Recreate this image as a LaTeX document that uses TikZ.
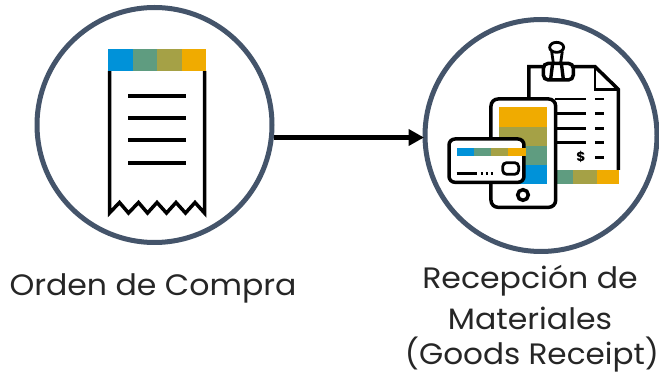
\documentclass[tikz,border=0pt]{standalone}
\usepackage{fontspec}
\setmainfont{Poppins}[FakeStretch=1.07]
\usetikzlibrary{arrows.meta}
\definecolor{ring}{HTML}{44546A}
\definecolor{cblue}{HTML}{0092D9}
\definecolor{cteal}{HTML}{5F9C80}
\definecolor{colive}{HTML}{A5A146}
\definecolor{cgold}{HTML}{F0AB00}
\tikzset{
  ringc/.style={circle,draw=ring,line width=5pt,fill=white,inner sep=0pt},
  lbl/.style={font=\fontsize{29.5}{38}\selectfont,text=black!85,inner sep=0pt,anchor=center},
  ink/.style={draw=black,line width=3.5pt},
  inkt/.style={draw=black,line width=2.8pt},
}
\begin{document}
\begin{tikzpicture}[x=1pt,y=-1pt]
\useasboundingbox (0,0) rectangle (659,374);
\node[ringc,minimum size=235pt] (orden) at (154.5,125) {};
\node[ringc,minimum size=232pt] (recep) at (541,135.5) {};
\draw[line width=5.2pt,shorten <=-0.5pt,shorten >=-1.5pt,-{Triangle[length=15.5pt,width=16pt]}] (orden.east |- 0,137.5) -- (recep.west |- 0,137.5);
% receipt
\draw[ink,miter limit=10] (109.5,71) -- (109.5,213) -- (119.5,202.5) -- (128.5,213) -- (138.5,202.5) -- (147.5,213) -- (157,202.5) -- (166.5,213) -- (176,202.5) -- (185.5,213) -- (195,202.5) -- (204.5,213) -- (204.5,71);
\foreach \y in {96,118,140,163} \draw[line width=3.4pt] (128,\y) -- (186,\y);
\fill[cblue] (108,49) rectangle (132.5,71);
\fill[cteal] (132.5,49) rectangle (157,71);
\fill[colive] (157,49) rectangle (181.5,71);
\fill[cgold] (181.5,49) rectangle (206,71);
% document
\begin{scope}[shift={(440,30)},x=0.3333pt,y=-0.3333pt]
\fill[cteal] (345,420) rectangle (400,461);
\fill[colive] (400,420) rectangle (470,461);
\fill[cgold] (470,420) rectangle (538,461);
\draw[ink,line join=miter] (267,207) -- (267,110) -- (465,110) -- (535,178) -- (535,420);
\draw[inkt] (465,110) -- (465,178) -- (535,178);
\foreach \y in {207,250,295,338} {
  \draw[inkt] (345,\y) -- (437,\y);
  \draw[inkt] (465,\y) -- (493,\y);
}
\draw[inkt] (465,382) -- (493,382);
\node[inner sep=0pt,font=\fontsize{13}{13}\selectfont\bfseries,text=black] (dollar) at (423,382) {\$};
% clip
\draw[ink,fill=white,rounded corners=5pt] (310,100) rectangle (400,150);
\draw[line width=3.4pt] (338,99) -- (332,148) (364,99) -- (370,148);
\draw[inkt] (350,52) ellipse (21 and 15);
\draw[inkt] (335,64) -- (340,99) (367,64) -- (362,99);
% phone
\draw[ink,fill=white,rounded corners=7pt] (153,207) rectangle (347,532);
\fill[cgold] (178,232) rectangle (322,290);
\fill[colive] (178,290) rectangle (322,347);
\fill[cteal] (178,347) rectangle (322,405);
\fill[cblue] (178,405) rectangle (322,461);
\draw[ink] (249,495) circle (16);
% card
\draw[ink,fill=white,rounded corners=6pt] (27,327) rectangle (252,457);
\fill[cblue] (50,355) rectangle (102,378);
\fill[cteal] (102,355) rectangle (153,378);
\fill[colive] (153,355) rectangle (205,378);
\fill[cgold] (205,355) rectangle (257,378);
\draw[inkt] (50,431) -- (110,431) (122,431) -- (130,431) (137,431) -- (143,431) (152,431) -- (158,431);
\draw[inkt,rounded corners=4pt] (188,398) rectangle (236,433);
\end{scope}
% labels
\node[lbl] (t1) at (153,288) {Orden de Compra};
\node[lbl] (t2) at (530,281) {Recepción de};
\node[lbl] (t3) at (530,318) {Materiales};
\node[lbl,xscale=0.985] (t4) at (532,355) {(Goods Receipt)};
\end{tikzpicture}
\end{document}
